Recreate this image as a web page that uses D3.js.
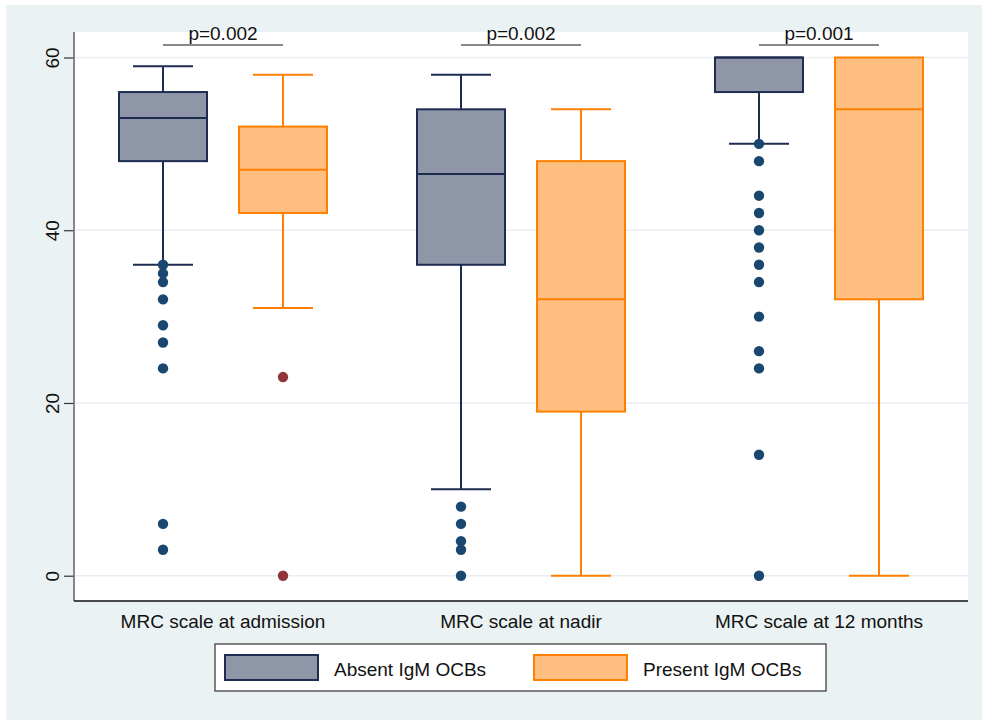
<!DOCTYPE html>
<html>
<head>
<meta charset="utf-8">
<script src="https://cdn.jsdelivr.net/npm/d3@7"></script>
<style>
  html, body { margin: 0; padding: 0; background: #ffffff; }
  svg { display: block; font-family: "Liberation Sans", Arial, sans-serif; }
</style>
</head>
<body>
<svg id="chart" width="982" height="720"></svg>
<script>
// MRC scale by IgM OCB status at three time points
const categories = ["MRC scale at admission", "MRC scale at nadir", "MRC scale at 12 months"];
const groups = ["Absent IgM OCBs", "Present IgM OCBs"];
const pValues = ["p=0.002", "p=0.002", "p=0.001"];
const yTicks = [0, 20, 40, 60];

// Absent IgM OCBs: adjacent values, quartiles, medians, outside values
const absentLower = [36, 10, 50];
const absentQ1 = [48, 36, 56];
const absentMedian = [53, 46.5, 60];
const absentQ3 = [56, 54, 60];
const absentUpper = [59, 58, 60];
const absentOutliers = [
  [36, 35, 34, 32, 29, 27, 24, 6, 3],
  [8, 6, 4, 3, 0],
  [50, 48, 44, 42, 40, 38, 36, 34, 30, 26, 24, 14, 0]
];

// Present IgM OCBs
const presentLower = [31, 0, 0];
const presentQ1 = [42, 19, 32];
const presentMedian = [47, 32, 54];
const presentQ3 = [52, 48, 60];
const presentUpper = [58, 54, 60];
const presentOutliers = [[23, 0], [], []];

const series = [
  { name: groups[0], lower: absentLower, q1: absentQ1, median: absentMedian, q3: absentQ3, upper: absentUpper, outliers: absentOutliers,
    fill: "#8f96a8", stroke: "#1f2c52", dot: "#1a476f" },
  { name: groups[1], lower: presentLower, q1: presentQ1, median: presentMedian, q3: presentQ3, upper: presentUpper, outliers: presentOutliers,
    fill: "#fdbe80", stroke: "#ff8000", dot: "#90353b" }
];

const svg = d3.select("#chart");
const bg = "#eaf2f3";
const plot = { left: 74, right: 968, top: 32, bottom: 601 };

// outer background
svg.append("rect").attr("x", 6).attr("y", 5).attr("width", 976).attr("height", 715).attr("fill", bg);
// plot region
svg.append("rect").attr("x", plot.left).attr("y", plot.top)
  .attr("width", plot.right - plot.left).attr("height", plot.bottom - plot.top).attr("fill", "#ffffff");

const x = d3.scaleBand().domain(categories).range([plot.left, plot.right]);
const xs = d3.scaleBand().domain(groups).range([-120, 120]).paddingInner(0).paddingOuter(0);
const y = d3.scaleLinear().domain([0, 60]).range([575.7, 57.5]);
const boxW = 88;
const capW = 60;

const cx = (ci, si) => x(categories[ci]) + x.bandwidth() / 2 + xs(groups[si]) + xs.bandwidth() / 2;

// grid lines
svg.append("g").selectAll("line").data(yTicks).join("line")
  .attr("x1", plot.left).attr("x2", plot.right)
  .attr("y1", d => y(d)).attr("y2", d => y(d))
  .attr("stroke", "#e6eef2").attr("stroke-width", 1.6);

// y axis
const yAxis = d3.axisLeft(y).tickValues(yTicks).tickSize(10).tickPadding(0);
const gy = svg.append("g").attr("transform", `translate(${plot.left},0)`).call(yAxis);
gy.select(".domain").remove();
gy.selectAll(".tick line").attr("stroke", "#333").attr("stroke-width", 1.2);
gy.selectAll(".tick text")
  .attr("x", 0).attr("dy", 0)
  .attr("text-anchor", "middle")
  .attr("transform", "translate(-22,0) rotate(-90)")
  .attr("dominant-baseline", "central")
  .attr("font-size", 19).attr("fill", "#111")
  .style("font-family", "'Liberation Sans', Arial, sans-serif");
svg.append("line").attr("x1", plot.left).attr("x2", plot.left).attr("y1", plot.top).attr("y2", plot.bottom)
  .attr("stroke", "#6b6b6b").attr("stroke-width", 1.6);

// x axis
const xAxis = d3.axisBottom(x).tickSize(0).tickPadding(0);
const gx = svg.append("g").attr("transform", `translate(0,${plot.bottom})`).call(xAxis);
gx.select(".domain").remove();
gx.selectAll(".tick text").attr("y", 27).attr("dy", 0)
  .attr("font-size", 19).attr("fill", "#111")
  .style("font-family", "'Liberation Sans', Arial, sans-serif");
svg.append("line").attr("x1", plot.left).attr("x2", plot.right).attr("y1", plot.bottom).attr("y2", plot.bottom)
  .attr("stroke", "#111").attr("stroke-width", 1.4);

// boxes
series.forEach((s, si) => {
  const g = svg.append("g");
  categories.forEach((c, ci) => {
    const xc = cx(ci, si);
    // whiskers
    g.append("line").attr("x1", xc).attr("x2", xc).attr("y1", y(s.q3[ci])).attr("y2", y(s.upper[ci]))
      .attr("stroke", s.stroke).attr("stroke-width", 2);
    g.append("line").attr("x1", xc).attr("x2", xc).attr("y1", y(s.q1[ci])).attr("y2", y(s.lower[ci]))
      .attr("stroke", s.stroke).attr("stroke-width", 2);
    if (s.upper[ci] > s.q3[ci]) {
      g.append("line").attr("x1", xc - capW / 2).attr("x2", xc + capW / 2)
        .attr("y1", y(s.upper[ci])).attr("y2", y(s.upper[ci]))
        .attr("stroke", s.stroke).attr("stroke-width", 2);
    }
    if (s.lower[ci] < s.q1[ci]) {
      g.append("line").attr("x1", xc - capW / 2).attr("x2", xc + capW / 2)
        .attr("y1", y(s.lower[ci])).attr("y2", y(s.lower[ci]))
        .attr("stroke", s.stroke).attr("stroke-width", 2);
    }
    // box
    g.append("rect").attr("x", xc - boxW / 2).attr("y", y(s.q3[ci]))
      .attr("width", boxW).attr("height", y(s.q1[ci]) - y(s.q3[ci]))
      .attr("fill", s.fill).attr("stroke", s.stroke).attr("stroke-width", 2);
    // median
    g.append("line").attr("x1", xc - boxW / 2).attr("x2", xc + boxW / 2)
      .attr("y1", y(s.median[ci])).attr("y2", y(s.median[ci]))
      .attr("stroke", s.stroke).attr("stroke-width", 2);
  });
});

// outside values
series.forEach((s, si) => {
  categories.forEach((c, ci) => {
    svg.append("g").selectAll("circle").data(s.outliers[ci]).join("circle")
      .attr("cx", cx(ci, si)).attr("cy", d => y(d)).attr("r", 5.2)
      .attr("fill", s.dot);
  });
});

// p-value annotations
categories.forEach((c, ci) => {
  const x0 = cx(ci, 0), x1 = cx(ci, 1);
  svg.append("line").attr("x1", x0).attr("x2", x1).attr("y1", 45).attr("y2", 45)
    .attr("stroke", "#111").attr("stroke-width", 1.2);
  svg.append("text").attr("x", (x0 + x1) / 2).attr("y", 39.5)
    .attr("text-anchor", "middle").attr("font-size", 19).attr("fill", "#111")
    .text(pValues[ci]);
});

// legend
const lg = svg.append("g");
lg.append("rect").attr("x", 215).attr("y", 644).attr("width", 611).attr("height", 47)
  .attr("fill", "#ffffff").attr("stroke", "#333").attr("stroke-width", 1.2);
const legendX = [225, 534];
series.forEach((s, si) => {
  lg.append("rect").attr("x", legendX[si]).attr("y", 655).attr("width", 93).attr("height", 25)
    .attr("fill", s.fill).attr("stroke", s.stroke).attr("stroke-width", 2);
  lg.append("text").attr("x", legendX[si] + 109).attr("y", 675.5)
    .attr("font-size", 19).attr("fill", "#111").text(s.name);
});
</script>
</body>
</html>
